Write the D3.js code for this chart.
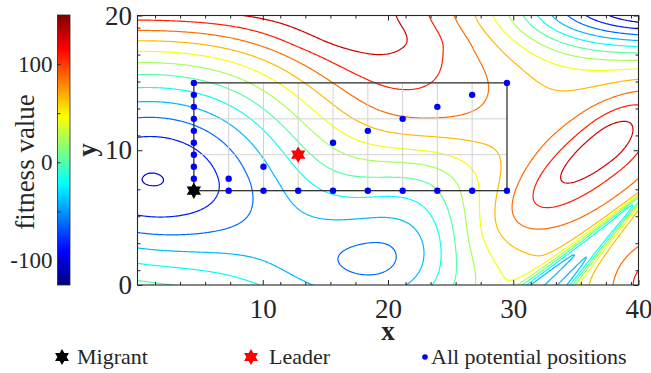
<!DOCTYPE html>
<html>
<head>
<meta charset="utf-8">
<script src="https://cdn.jsdelivr.net/npm/d3@7"></script>
<style>
    body { margin: 0; background: #fff; }
    text { font-family: "Liberation Serif", "Times New Roman", serif; fill: #262626; }
</style>
</head>
<body>
<svg id="chart" width="651" height="373"></svg>
<script>
// ---- data ----
var xRange = [0, 40], yRange = [0, 20];
var colorRange = [-125, 150];
var levelCount = 12;

var xMajor = [10, 20, 30, 40];
var xMinor = [1.4, 3.4, 5.4, 7.4, 11.4, 13.4, 15.4, 17.4, 21.4, 23.4, 25.4, 27.4, 31.4, 33.4, 35.4, 37.4, 39.4];
var yMajor = [0, 10, 20];
var yMinor = [1.1, 3.1, 5.1, 7.1, 11.1, 13.1, 15.1, 17.1, 19.1];
var cbMajor = [-100, 0, 100];
var cbMinor = [-50, 50];

// search grid around the migrant
var gridX = [4.5, 7.28, 10.06, 12.83, 15.61, 18.39, 21.17, 23.94, 26.72, 29.5];
var gridY = [7, 7.89, 8.78, 9.67, 10.56, 11.44, 12.33, 13.22, 14.11, 15];
var gridLinesY = [7, 9.67, 12.33, 15];
// potential positions as [column, row] into gridX / gridY
var potentialIdx = [
    [0,1],[0,2],[0,3],[0,4],[0,5],[0,6],[0,7],[0,8],[0,9],
    [1,0],[2,0],[3,0],[4,0],[5,0],[6,0],[7,0],[8,0],[9,0],
    [1,1],[2,2],[4,4],[5,5],[6,6],[7,7],[8,8],[9,9]
];
var migrant = [4.5, 7];
var leader = [12.83, 9.67];

// fitness landscape
// bumps: [cx, cy, height, spreadLeft, spreadRight, spreadDown, spreadUp, angleDeg]
var basePlateau = 55;
var leftBasin    = [1.1, 7.9, -158.8, 9.5, 9.5, 4.95, 6, 0];
var topRidge     = [12, 24, 137, 60, 10, 4.05, 4.05, 0];
var upperPeak    = [18.8, 17.6, 53, 6, 5.5, 5.5, 2, 0];
var cornerPit    = [42.5, 21, -200, 10, 10, 2.5, 4, 0];
var topShoulder  = [28, 21, 30, 5, 4, 3, 3, 0];
var mainPeak     = [37.3, 10.3, 38, 5.5, 4, 1.4, 1.4, 37];
var mainShoulder = [37.3, 10.3, 50, 12, 5, 3.5, 2.6, 37];
var lowerPit     = [19, 1.0, -100, 7.5, 6.5, 3.5, 3.5, 0];
var cornerPeak   = [41, 0.5, 60, 3, 4, 2, 2, 37];
var midPlateau   = [26, 13.5, 22, 6, 5, 2.5, 3, 0];
var midDip       = [22.5, 7, -40, 4, 3.5, 5, 2.5, 0];
// narrow valleys fanning from the right edge: [px, py, depthNear, depthFar, angleDeg, width0, widthGrowth]
var valleyA = [40.6, 6.9, 25, 90, 38.4, 0.2, 0.03];
var valleyB = [40.6, 6.9, 25, 90, 46.3, 0.2, 0.03];

var bumps = [leftBasin, topRidge, upperPeak, cornerPit, topShoulder, mainPeak, mainShoulder,
             lowerPit, cornerPeak, midPlateau, midDip];
var valleys = [valleyA, valleyB];

// ---- layout ----
var W = 651, H = 373;
var plot = {left: 137.5, right: 638.5, top: 15.5, bottom: 285};
var cb = {x: 57.5, w: 12.5, top: 15, bottom: 285};
var ink = '#262626';
var serif = '"Liberation Serif", "Times New Roman", serif';

var x = d3.scaleLinear().domain(xRange).range([plot.left, plot.right]);
var y = d3.scaleLinear().domain(yRange).range([plot.bottom, plot.top]);
var cScale = d3.scaleLinear().domain(colorRange).range([cb.bottom, cb.top]);

function clamp01(v) { return Math.max(0, Math.min(1, v)); }
function jet(t) {
    t = clamp01(t);
    var r = clamp01(1.5 - Math.abs(4 * t - 3)),
        g = clamp01(1.5 - Math.abs(4 * t - 2)),
        b = clamp01(1.5 - Math.abs(4 * t - 1));
    return d3.rgb(r * 255, g * 255, b * 255).formatHex();
}
function colorOf(v) { return jet((v - colorRange[0]) / (colorRange[1] - colorRange[0])); }

function bump(px, py, f) {
    var a = f[7] * Math.PI / 180, dx = px - f[0], dy = py - f[1];
    var u = dx * Math.cos(a) + dy * Math.sin(a),
        v = -dx * Math.sin(a) + dy * Math.cos(a);
    var su = u < 0 ? f[3] : f[4], sv = v < 0 ? f[5] : f[6];
    return f[2] * Math.exp(-0.5 * (u * u / (su * su) + v * v / (sv * sv)));
}
function valley(px, py, f) {
    var a = f[4] * Math.PI / 180, dx = f[0] - px, dy = f[1] - py;
    var s = dx * Math.cos(a) + dy * Math.sin(a);
    if (s <= 0) return 0;
    var w = -dx * Math.sin(a) + dy * Math.cos(a);
    var sw = f[5] + f[6] * s;
    var depth = f[2] + f[3] * (1 - Math.exp(-s / 4));
    return -depth * Math.exp(-0.5 * w * w / (sw * sw));
}
function fitness(px, py) {
    var v = basePlateau;
    bumps.forEach(function(f) { v += bump(px, py, f); });
    valleys.forEach(function(f) { v += valley(px, py, f); });
    return v;
}

var svg = d3.select('#chart');
svg.append('rect').attr('width', W).attr('height', H).attr('fill', '#fff');

var defs = svg.append('defs');
defs.append('clipPath').attr('id', 'plotClip')
    .append('rect')
    .attr('x', plot.left).attr('y', plot.top)
    .attr('width', plot.right - plot.left).attr('height', plot.bottom - plot.top);

// ---- contours ----
var step = 0.1, x0 = xRange[0] - 0.5, y0 = yRange[0] - 0.5;
var nx = Math.round((xRange[1] - xRange[0] + 1) / step) + 1;
var ny = Math.round((yRange[1] - yRange[0] + 1) / step) + 1;
var values = new Array(nx * ny);
for (var j = 0; j < ny; j++) {
    for (var i = 0; i < nx; i++) {
        values[j * nx + i] = fitness(x0 + i * step, y0 + j * step);
    }
}
var levels = d3.range(1, levelCount + 1).map(function(k) {
    return colorRange[0] + k * (colorRange[1] - colorRange[0]) / (levelCount + 1);
});
var contours = d3.contours().size([nx, ny]).thresholds(levels)(values);
var proj = d3.geoTransform({
    point: function(px, py) {
        this.stream.point(x(x0 + (px - 0.5) * step), y(y0 + (py - 0.5) * step));
    }
});
var path = d3.geoPath(proj);

svg.append('g').attr('clip-path', 'url(#plotClip)')
    .selectAll('path')
    .data(contours)
    .enter().append('path')
    .attr('d', path)
    .attr('fill', 'none')
    .attr('stroke', function(d) { return colorOf(d.value); })
    .attr('stroke-width', 1.2);

// ---- search grid ----
var gridG = svg.append('g');
gridG.selectAll('line.vx')
    .data(gridX.slice(1, -1))
    .enter().append('line')
    .attr('x1', function(d) { return x(d); }).attr('x2', function(d) { return x(d); })
    .attr('y1', y(gridY[0])).attr('y2', y(gridY[gridY.length - 1]))
    .attr('stroke', '#d2d2d2').attr('stroke-width', 1);
gridG.selectAll('line.hy')
    .data(gridLinesY.slice(1, -1))
    .enter().append('line')
    .attr('x1', x(gridX[0])).attr('x2', x(gridX[gridX.length - 1]))
    .attr('y1', function(d) { return y(d); }).attr('y2', function(d) { return y(d); })
    .attr('stroke', '#d2d2d2').attr('stroke-width', 1);
gridG.append('rect')
    .attr('x', x(gridX[0])).attr('y', y(gridY[gridY.length - 1]))
    .attr('width', x(gridX[gridX.length - 1]) - x(gridX[0]))
    .attr('height', y(gridY[0]) - y(gridY[gridY.length - 1]))
    .attr('fill', 'none').attr('stroke', '#333').attr('stroke-width', 1.3);

svg.append('g').selectAll('circle')
    .data(potentialIdx)
    .enter().append('circle')
    .attr('cx', function(d) { return x(gridX[d[0]]); })
    .attr('cy', function(d) { return y(gridY[d[1]]); })
    .attr('r', 3.2)
    .attr('fill', '#0000ff');

function hexagram(r) {
    var pts = [];
    for (var k = 0; k < 12; k++) {
        var a = -Math.PI / 2 + k * Math.PI / 6;
        var rr = k % 2 === 0 ? r : r / Math.sqrt(3);
        pts.push([rr * Math.cos(a), rr * Math.sin(a)]);
    }
    return 'M' + pts.join('L') + 'Z';
}
svg.append('path').attr('d', hexagram(8.3))
    .attr('transform', 'translate(' + x(migrant[0]) + ',' + y(migrant[1]) + ')')
    .attr('fill', '#000');
svg.append('path').attr('d', hexagram(8.3))
    .attr('transform', 'translate(' + x(leader[0]) + ',' + y(leader[1]) + ')')
    .attr('fill', '#ff0000');

// ---- axes ----
function styleAxis(g, size) {
    g.select('.domain').remove();
    g.attr('font-family', serif).attr('font-size', size);
    g.selectAll('line').attr('stroke', ink);
    g.selectAll('text').attr('fill', ink).style('font-family', serif);
}
var fmt = function(d) { return String(d); };

svg.append('g').attr('transform', 'translate(0,' + plot.bottom + ')')
    .call(d3.axisBottom(x).tickValues(xMajor).tickSizeInner(-5).tickSizeOuter(0).tickPadding(14).tickFormat(fmt))
    .call(styleAxis, 27);
svg.append('g').attr('transform', 'translate(0,' + plot.bottom + ')')
    .call(d3.axisBottom(x).tickValues(xMinor).tickSizeInner(-3).tickSizeOuter(0).tickFormat(''))
    .call(styleAxis, 27);
svg.append('g').attr('transform', 'translate(0,' + plot.top + ')')
    .call(d3.axisTop(x).tickValues(xMajor).tickSizeInner(-5).tickSizeOuter(0).tickFormat(''))
    .call(styleAxis, 27);
svg.append('g').attr('transform', 'translate(0,' + plot.top + ')')
    .call(d3.axisTop(x).tickValues(xMinor).tickSizeInner(-3).tickSizeOuter(0).tickFormat(''))
    .call(styleAxis, 27);
svg.append('g').attr('transform', 'translate(' + plot.left + ',0)')
    .call(d3.axisLeft(y).tickValues(yMajor).tickSizeInner(-5).tickSizeOuter(0).tickPadding(5.5).tickFormat(fmt))
    .call(styleAxis, 27);
svg.append('g').attr('transform', 'translate(' + plot.left + ',0)')
    .call(d3.axisLeft(y).tickValues(yMinor).tickSizeInner(-3).tickSizeOuter(0).tickFormat(''))
    .call(styleAxis, 27);
svg.append('g').attr('transform', 'translate(' + plot.right + ',0)')
    .call(d3.axisRight(y).tickValues(yMajor).tickSizeInner(-5).tickSizeOuter(0).tickFormat(''))
    .call(styleAxis, 27);
svg.append('g').attr('transform', 'translate(' + plot.right + ',0)')
    .call(d3.axisRight(y).tickValues(yMinor).tickSizeInner(-3).tickSizeOuter(0).tickFormat(''))
    .call(styleAxis, 27);

svg.append('rect')
    .attr('x', plot.left).attr('y', plot.top)
    .attr('width', plot.right - plot.left).attr('height', plot.bottom - plot.top)
    .attr('fill', 'none').attr('stroke', ink).attr('stroke-width', 1.1);

svg.append('text').attr('x', 388).attr('y', 340)
    .attr('text-anchor', 'middle').attr('font-weight', 'bold').attr('font-size', 27)
    .style('font-family', serif)
    .text('x');
svg.append('text').attr('transform', 'translate(96,150) rotate(-90)')
    .attr('text-anchor', 'middle').attr('font-weight', 'bold').attr('font-size', 27)
    .style('font-family', serif)
    .text('y');

// ---- colorbar ----
var grad = defs.append('linearGradient').attr('id', 'jetGrad')
    .attr('x1', 0).attr('y1', 1).attr('x2', 0).attr('y2', 0);
d3.range(0, 65).forEach(function(k) {
    grad.append('stop').attr('offset', k / 64).attr('stop-color', jet(k / 64));
});
svg.append('rect')
    .attr('x', cb.x).attr('y', cb.top)
    .attr('width', cb.w).attr('height', cb.bottom - cb.top)
    .attr('fill', 'url(#jetGrad)')
    .attr('stroke', ink).attr('stroke-width', 0.8);
svg.append('g').attr('transform', 'translate(' + cb.x + ',0)')
    .call(d3.axisLeft(cScale).tickValues(cbMajor).tickSizeInner(-3).tickSizeOuter(0).tickPadding(5).tickFormat(fmt))
    .call(styleAxis, 23);
svg.append('g').attr('transform', 'translate(' + cb.x + ',0)')
    .call(d3.axisLeft(cScale).tickValues(cbMinor).tickSizeInner(-3).tickSizeOuter(0).tickFormat(''))
    .call(styleAxis, 23);
svg.append('text').attr('transform', 'translate(34,162) rotate(-90)')
    .attr('text-anchor', 'middle').attr('font-size', 27)
    .style('font-family', serif)
    .text('fitness value');

// ---- legend ----
var legendY = 357;
var legend = svg.append('g').attr('font-size', 22).style('font-family', serif);
legend.append('path').attr('d', hexagram(8))
    .attr('transform', 'translate(62,' + legendY + ')').attr('fill', '#000');
legend.append('text').attr('x', 77).attr('y', legendY + 7).text('Migrant');
legend.append('path').attr('d', hexagram(8))
    .attr('transform', 'translate(251,' + legendY + ')').attr('fill', '#ff0000');
legend.append('text').attr('x', 269).attr('y', legendY + 7).text('Leader');
legend.append('circle').attr('cx', 425).attr('cy', legendY).attr('r', 2.8).attr('fill', '#0000ff');
legend.append('text').attr('x', 431).attr('y', legendY + 7).text('All potential positions');
</script>
</body>
</html>
